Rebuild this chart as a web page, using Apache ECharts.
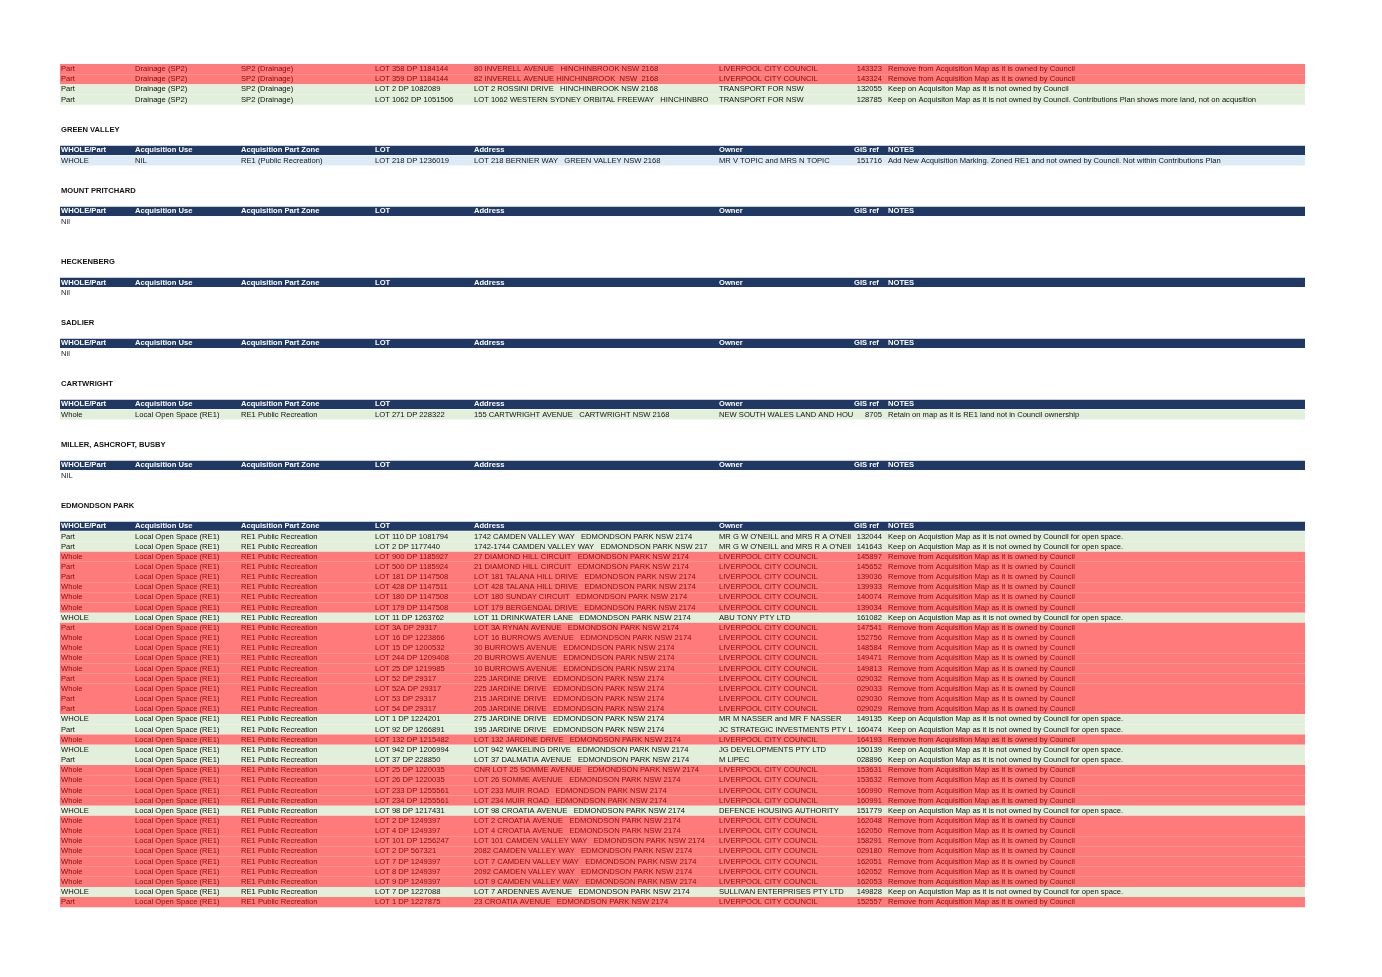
<!DOCTYPE html>
<html><head><meta charset="utf-8">
<script src="https://cdn.jsdelivr.net/npm/echarts@6/dist/echarts.min.js"></script>
<style>html,body{margin:0;background:#fff}#c{width:1382px;height:977px}</style>
</head><body><div id="c"></div>
<script>
const headers = ['WHOLE/Part','Acquisition Use','Acquisition Part Zone','LOT','Address','Owner','GIS ref','NOTES'];
const R='Remove from Acquisition Map as it is owned by Council';
const K='Keep on Acquistion Map as it is not owned by Council for open space.';
const LC='LIVERPOOL CITY COUNCIL';
const LOS='Local Open Space (RE1)', RPR='RE1 Public Recreation', EP='EDMONDSON PARK NSW 2174';
// [status, whole, use, zone, lot, address, owner, gis, notes]
const hinchinbrookRows = [
 ['r','Part','Drainage (SP2)','SP2 (Drainage)','LOT 358 DP 1184144','80 INVERELL AVENUE   HINCHINBROOK NSW 2168',LC,'143323','Remove from Acquisition Map as it is owned by Council'],
 ['r','Part','Drainage (SP2)','SP2 (Drainage)','LOT 359 DP 1184144','82 INVERELL AVENUE HINCHINBROOK  NSW  2168',LC,'143324','Remove from Acquisition Map as it is owned by Council'],
 ['g','Part','Drainage (SP2)','SP2 (Drainage)','LOT 2 DP 1082089','LOT 2 ROSSINI DRIVE   HINCHINBROOK NSW 2168','TRANSPORT FOR NSW','132055','Keep on Acquisiton Map as it is not owned by Council'],
 ['g','Part','Drainage (SP2)','SP2 (Drainage)','LOT 1062 DP 1051506','LOT 1062 WESTERN SYDNEY ORBITAL FREEWAY   HINCHINBRO','TRANSPORT FOR NSW','128785','Keep on Acquisiton Map as it is not owned by Council. Contributions Plan shows more land, not on acqusition']
];
const greenValleyRows = [
 ['b','WHOLE','NIL','RE1 (Public Recreation)','LOT 218 DP 1236019','LOT 218 BERNIER WAY   GREEN VALLEY NSW 2168','MR V TOPIC and MRS N TOPIC','151716','Add New Acquisition Marking. Zoned RE1 and not owned by Council. Not within Contributions Plan']
];
const cartwrightRows = [
 ['g','Whole',LOS,RPR,'LOT 271 DP 228322','155 CARTWRIGHT AVENUE   CARTWRIGHT NSW 2168','NEW SOUTH WALES LAND AND HOU','8705','Retain on map as it is RE1 land not in Council ownership']
];
const edmondsonRows = [
 ['g','Part',LOS,RPR,'LOT 110 DP 1081794','1742 CAMDEN VALLEY WAY   '+EP,"MR G W O'NEILL and MRS R A O'NEIl",'132044',K],
 ['g','Part',LOS,RPR,'LOT 2 DP 1177440','1742-1744 CAMDEN VALLEY WAY   EDMONDSON PARK NSW 217',"MR G W O'NEILL and MRS R A O'NEIl",'141643',K],
 ['r','Whole',LOS,RPR,'LOT 900 DP 1185927','27 DIAMOND HILL CIRCUIT   '+EP,LC,'145897',R],
 ['r','Part',LOS,RPR,'LOT 500 DP 1185924','21 DIAMOND HILL CIRCUIT   '+EP,LC,'145652',R],
 ['r','Part',LOS,RPR,'LOT 181 DP 1147508','LOT 181 TALANA HILL DRIVE   '+EP,LC,'139036',R],
 ['r','Whole',LOS,RPR,'LOT 428 DP 1147511','LOT 428 TALANA HILL DRIVE   '+EP,LC,'139933',R],
 ['r','Whole',LOS,RPR,'LOT 180 DP 1147508','LOT 180 SUNDAY CIRCUIT   '+EP,LC,'140074',R],
 ['r','Whole',LOS,RPR,'LOT 179 DP 1147508','LOT 179 BERGENDAL DRIVE   '+EP,LC,'139034',R],
 ['g','WHOLE',LOS,RPR,'LOT 11 DP 1263762','LOT 11 DRINKWATER LANE   '+EP,'ABU TONY PTY LTD','161082',K],
 ['r','Part',LOS,RPR,'LOT 3A DP 29317','LOT 3A RYNAN AVENUE   '+EP,LC,'147541',R],
 ['r','Whole',LOS,RPR,'LOT 16 DP 1223866','LOT 16 BURROWS AVENUE   '+EP,LC,'152756',R],
 ['r','Whole',LOS,RPR,'LOT 15 DP 1200532','30 BURROWS AVENUE   '+EP,LC,'148584',R],
 ['r','Whole',LOS,RPR,'LOT 244 DP 1209408','20 BURROWS AVENUE   '+EP,LC,'149471',R],
 ['r','Whole',LOS,RPR,'LOT 25 DP 1219985','10 BURROWS AVENUE   '+EP,LC,'149813',R],
 ['r','Part',LOS,RPR,'LOT 52 DP 29317','225 JARDINE DRIVE   '+EP,LC,'029032',R],
 ['r','Whole',LOS,RPR,'LOT 52A DP 29317','225 JARDINE DRIVE   '+EP,LC,'029033',R],
 ['r','Part',LOS,RPR,'LOT 53 DP 29317','215 JARDINE DRIVE   '+EP,LC,'029030',R],
 ['r','Part',LOS,RPR,'LOT 54 DP 29317','205 JARDINE DRIVE   '+EP,LC,'029029',R],
 ['g','WHOLE',LOS,RPR,'LOT 1 DP 1224201','275 JARDINE DRIVE   '+EP,'MR M NASSER and MR F NASSER','149135',K],
 ['g','Part',LOS,RPR,'LOT 92 DP 1266891','195 JARDINE DRIVE   '+EP,'JC STRATEGIC INVESTMENTS PTY L','160474',K],
 ['r','Whole',LOS,RPR,'LOT 132 DP 1215482','LOT 132 JARDINE DRIVE   '+EP,LC,'164193',R],
 ['g','WHOLE',LOS,RPR,'LOT 942 DP 1206994','LOT 942 WAKELING DRIVE   '+EP,'JG DEVELOPMENTS PTY LTD','150139',K],
 ['g','Part',LOS,RPR,'LOT 37 DP 228850','LOT 37 DALMATIA AVENUE   '+EP,'M LIPEC','028896',K],
 ['r','Whole',LOS,RPR,'LOT 25 DP 1220035','CNR LOT 25 SOMME AVENUE   '+EP,LC,'153631',R],
 ['r','Whole',LOS,RPR,'LOT 26 DP 1220035','LOT 26 SOMME AVENUE   '+EP,LC,'153632',R],
 ['r','Whole',LOS,RPR,'LOT 233 DP 1255561','LOT 233 MUIR ROAD   '+EP,LC,'160990',R],
 ['r','Whole',LOS,RPR,'LOT 234 DP 1255561','LOT 234 MUIR ROAD   '+EP,LC,'160991',R],
 ['g','WHOLE',LOS,RPR,'LOT 98 DP 1217431','LOT 98 CROATIA AVENUE   '+EP,'DEFENCE HOUSING AUTHORITY','151779',K],
 ['r','Whole',LOS,RPR,'LOT 2 DP 1249397','LOT 2 CROATIA AVENUE   '+EP,LC,'162048',R],
 ['r','Whole',LOS,RPR,'LOT 4 DP 1249397','LOT 4 CROATIA AVENUE   '+EP,LC,'162050',R],
 ['r','Whole',LOS,RPR,'LOT 101 DP 1256247','LOT 101 CAMDEN VALLEY WAY   '+EP,LC,'158291',R],
 ['r','Whole',LOS,RPR,'LOT 2 DP 567321','2082 CAMDEN VALLEY WAY   '+EP,LC,'029180',R],
 ['r','Whole',LOS,RPR,'LOT 7 DP 1249397','LOT 7 CAMDEN VALLEY WAY   '+EP,LC,'162051',R],
 ['r','Whole',LOS,RPR,'LOT 8 DP 1249397','2092 CAMDEN VALLEY WAY   '+EP,LC,'162052',R],
 ['r','Whole',LOS,RPR,'LOT 9 DP 1249397','LOT 9 CAMDEN VALLEY WAY   '+EP,LC,'162053',R],
 ['g','WHOLE',LOS,RPR,'LOT 7 DP 1227088','LOT 7 ARDENNES AVENUE   '+EP,'SULLIVAN ENTERPRISES PTY LTD','149828',K],
 ['r','Part',LOS,RPR,'LOT 1 DP 1227875','23 CROATIA AVENUE   '+EP,LC,'152557',R]
];
// sections: [title, rows, nilText, blank lines before title]
const sections = [
 ['GREEN VALLEY', greenValleyRows, null, 2],
 ['MOUNT PRITCHARD', [], 'Nil', 2],
 ['HECKENBERG', [], 'Nil', 3],
 ['SADLIER', [], 'Nil', 2],
 ['CARTWRIGHT', cartwrightRows, null, 2],
 ['MILLER, ASHCROFT, BUSBY', [], 'NIL', 2],
 ['EDMONDSON PARK', edmondsonRows, null, 2]
];
// Build sheet lines
const lines = [];
hinchinbrookRows.forEach(r => lines.push({t:'row', r}));
sections.forEach(([title, rows, nil, gap]) => {
  for (let i=0;i<gap;i++) lines.push({t:'blank'});
  lines.push({t:'title', s:title});
  lines.push({t:'blank'});
  lines.push({t:'head'});
  if (nil) lines.push({t:'nil', s:nil});
  rows.forEach(r => lines.push({t:'row', r}));
});
const N = lines.length;
const colX = [1, 75, 181, 315, 414, 659, 822, 828]; // gis right-aligned at colX[6]
const fills = {r:'#FF7B7B', g:'#E2EFDA', b:'#DDEBF7'};
const txtC = {r:'#8B0A0A', g:'#111', b:'#111'};
const FONT = '"Liberation Sans", Arial, sans-serif';
const chart = echarts.init(document.getElementById('c'));
chart.setOption({
  animation:false,
  grid:{left:60, top:64, width:1245, height:N*10.16, containLabel:false},
  xAxis:{type:'value', min:0, max:1245, show:false},
  yAxis:{type:'value', min:-0.5, max:N-0.5, inverse:true, show:false},
  series:[{
    type:'custom', clip:false,
    data: lines.map((l,i)=>[0,i]),
    renderItem:(params, api)=>{
      const l = lines[params.dataIndex];
      const y0 = api.coord([0, api.value(1)-0.5])[1];
      const y1 = api.coord([0, api.value(1)+0.5])[1];
      const xL = api.coord([0,0])[0], xR = api.coord([1245,0])[0];
      const ym = (y0+y1)/2, h=y1-y0;
      const X = v => api.coord([v,0])[0];
      const kids = [];
      const txt = (s,x,col,bold,align) => kids.push({type:'text', style:{text:s, x, y:ym, fill:col, font:(bold?'bold ':'')+'7.6px '+FONT, textVerticalAlign:'middle', textAlign:align||'left'}});
      if (l.t==='blank') return {type:'group', children:[]};
      if (l.t==='title') { txt(l.s, X(1), '#111', true); }
      if (l.t==='nil') { txt(l.s, X(1), '#222', false); }
      if (l.t==='head') {
        kids.push({type:'rect', shape:{x:xL,y:y0+0.5,width:xR-xL,height:h-1}, style:{fill:'#1F3864'}});
        headers.forEach((s,k)=> txt(s, k===6? X(colX[6]-28) : X(colX[k]), '#fff', true));
      }
      if (l.t==='row') {
        const r = l.r, st=r[0];
        kids.push({type:'rect', shape:{x:xL,y:y0,width:xR-xL,height:h}, style:{fill:fills[st]}});
        for (let k=1;k<=8;k++){
          const c = colX[k-1];
          if (k===7) txt(r[k], X(c), txtC[st], false, 'right');
          else txt(r[k], X(c), txtC[st], false);
        }
      }
      return {type:'group', children:kids};
    }
  }]
});
</script></body></html>
